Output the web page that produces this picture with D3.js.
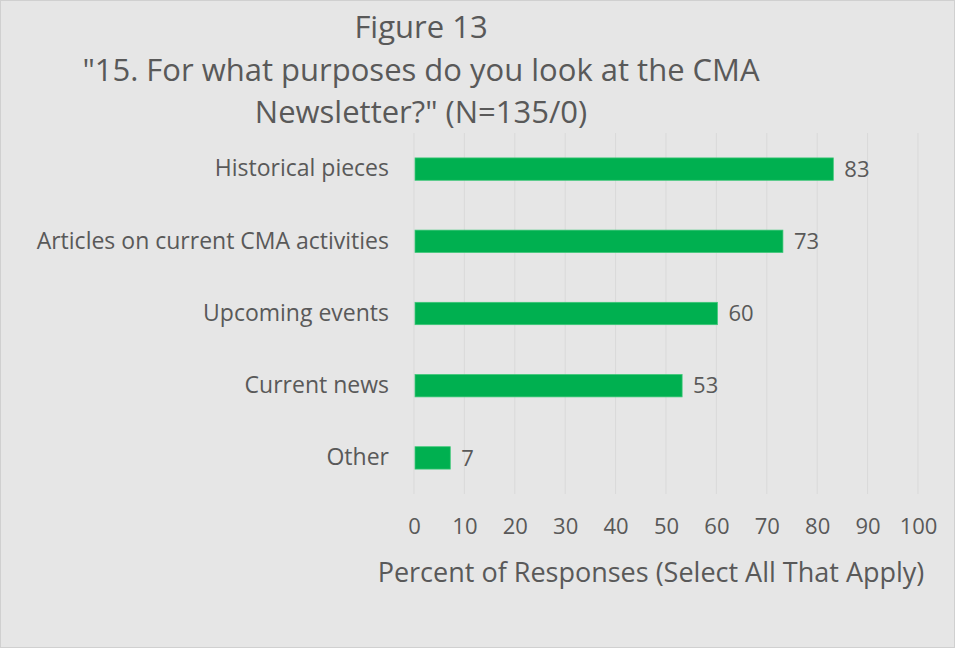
<!DOCTYPE html>
<html>
<head>
<meta charset="utf-8">
<script src="https://cdn.jsdelivr.net/npm/d3@7"></script>
<style>
  body { margin: 0; background: #e6e6e6; }
  svg { display: block; }
</style>
</head>
<body>
<svg id="chart"></svg>
<script>
//chart data
var categories = ['Historical pieces', 'Articles on current CMA activities', 'Upcoming events', 'Current news', 'Other'];
var values = [83, 73, 60, 53, 7];
var ticks = [0, 10, 20, 30, 40, 50, 60, 70, 80, 90, 100];
var titleLines = ['Figure 13', '"15. For what purposes do you look at the CMA', 'Newsletter?" (N=135/0)'];
var axisTitle = 'Percent of Responses (Select All That Apply)';

function drawChart() {
    var svg = d3.select('#chart')
        .attr('width', 955)
        .attr('height', 648)
        .style('font-family', '"Open Sans", sans-serif');

    var textColor = '#595959';

    //background and border
    svg.append('rect')
        .attr('x', 0.5).attr('y', 0.5)
        .attr('width', 954).attr('height', 647)
        .attr('fill', '#e6e6e6')
        .attr('stroke', '#d0d0d0');

    //plot area
    var margin = {top: 133, left: 414, right: 37, bottom: 154},
        width = 955 - margin.left - margin.right,
        height = 648 - margin.top - margin.bottom;

    var x = d3.scaleLinear().domain([0, 100]).range([0, width]);
    var y = d3.scaleBand().domain(categories).range([0, height]).paddingInner(0.69).paddingOuter(0.345);

    var canvas = svg.append('g')
        .attr('transform', 'translate(' + margin.left + ',' + margin.top + ')');

    //gridlines
    canvas.append('g')
        .selectAll('line').data(ticks)
        .enter().append('line')
            .attr('x1', d => x(d)).attr('x2', d => x(d))
            .attr('y1', 0).attr('y2', height)
            .attr('stroke', '#d9d9d9')
            .attr('stroke-width', 1);

    //x axis tick labels
    var xAxis = d3.axisBottom(x).tickValues(ticks).tickSize(0).tickPadding(0);
    var gx = canvas.append('g')
        .attr('transform', 'translate(0,' + (height + 24) + ')')
        .call(xAxis);
    gx.select('.domain').remove();
    gx.selectAll('text')
        .attr('fill', textColor)
        .style('font-family', '"Open Sans", sans-serif')
        .style('font-size', '22px');

    //y axis labels
    var yAxis = d3.axisLeft(y).tickSize(0).tickPadding(25);
    var gy = canvas.append('g').call(yAxis);
    gy.select('.domain').remove();
    gy.selectAll('text')
        .attr('fill', textColor)
        .style('font-family', '"Open Sans", sans-serif')
        .style('font-size', '23px');

    //bars
    var data = categories.map((c, i) => ({cat: c, val: values[i]}));
    canvas.append('g')
        .selectAll('rect').data(data)
        .enter().append('rect')
            .attr('x', x(0) + 1)
            .attr('y', d => y(d.cat))
            .attr('width', d => x(d.val) - x(0))
            .attr('height', y.bandwidth())
            .attr('fill', '#00b050')
            .attr('stroke', '#3dc878')
            .attr('stroke-width', 0.75);

    //value labels
    canvas.append('g')
        .selectAll('text').data(data)
        .enter().append('text')
            .attr('x', d => x(d.val) + 12)
            .attr('y', d => y(d.cat) + y.bandwidth() / 2)
            .attr('dy', '0.35em')
            .attr('fill', textColor)
            .style('font-size', '22px')
            .text(d => d.val);

    //axis title
    svg.append('text')
        .attr('x', 651)
        .attr('y', 582)
        .attr('text-anchor', 'middle')
        .attr('fill', textColor)
        .style('font-size', '27px')
        .text(axisTitle);

    //chart title
    svg.append('g').selectAll('text').data(titleLines)
        .enter().append('text')
            .attr('x', 421)
            .attr('y', (d, i) => 38 + i * 42.5)
            .attr('text-anchor', 'middle')
            .attr('fill', textColor)
            .style('font-size', '31px')
            .text(d => d);
}

drawChart();
</script>
</body>
</html>
